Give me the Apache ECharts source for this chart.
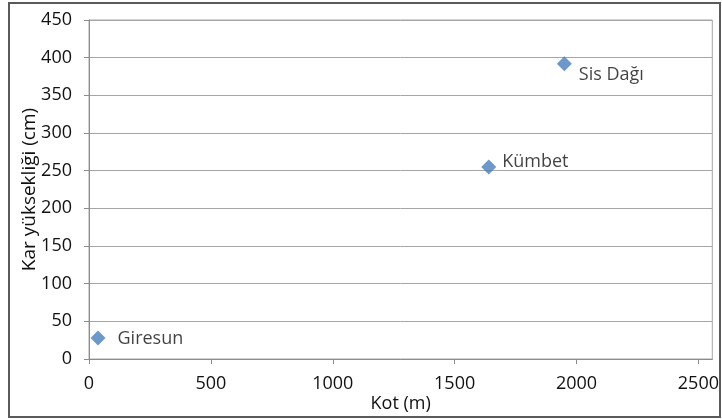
<!DOCTYPE html>
<html>
<head>
<meta charset="utf-8">
<script src="https://cdn.jsdelivr.net/npm/echarts@6/dist/echarts.min.js"></script>
<style>
  html, body { margin: 0; padding: 0; background: #fff; }
  #chart { width: 722px; height: 419px; }
</style>
</head>
<body>
<div id="chart"></div>
<script>
// istasyon verisi
var stations = ['Giresun', 'Kümbet', 'Sis Dağı'];
var kot = [37, 1640, 1950];        // m
var karYuk = [28, 255, 392];       // cm
var xTicks = [0, 500, 1000, 1500, 2000, 2500];

// etiket yerleşimi (veriden ayrı)
var labelPos = {
    'Giresun': { distance: 12, offset: [0, 1] },
    'Kümbet': { distance: 6, offset: [0, -5] },
    'Sis Dağı': { distance: 7, offset: [0, 11] }
};

var chart = echarts.init(document.getElementById('chart'));
var font = '"Open Sans", sans-serif';
var txt = '#111';

var option = {
    backgroundColor: '#fff',
    animation: false,
    graphic: [{
        type: 'rect',
        shape: { x: 9, y: 3, width: 711, height: 414 },
        style: { fill: 'none', stroke: '#5a5a5a', lineWidth: 2 },
        silent: true
    }],
    grid: {
        left: 89, top: 20, right: 9, bottom: 60,
        show: true,
        borderColor: '#a6a6a6',
        borderWidth: 1
    },
    xAxis: {
        type: 'value',
        min: 0, max: 2557, interval: 500,
        name: 'Kot (m)',
        nameLocation: 'middle',
        nameGap: 36,
        nameMoveOverlap: false,
        nameTextStyle: { fontFamily: font, fontSize: 18, color: txt },
        axisLine: { show: true, lineStyle: { color: '#8c8c8c' } },
        axisTick: { show: true, length: 5, lineStyle: { color: '#8c8c8c' }, customValues: xTicks },
        axisLabel: {
            fontFamily: font, fontSize: 18, color: txt, margin: 16, customValues: xTicks,
            formatter: function (v) { return String(v); }
        },
        splitLine: { show: false }
    },
    yAxis: {
        type: 'value',
        min: 0, max: 450, interval: 50,
        name: 'Kar yüksekliği (cm)',
        nameLocation: 'middle',
        nameGap: 50,
        nameRotate: 90,
        nameMoveOverlap: false,
        nameTextStyle: { fontFamily: font, fontSize: 19, color: txt },
        axisLine: { show: true, lineStyle: { color: '#8c8c8c' } },
        axisTick: { show: true, length: 5, lineStyle: { color: '#8c8c8c' } },
        axisLabel: {
            fontFamily: font, fontSize: 18, color: txt, margin: 17,
            formatter: function (v) { return String(v); }
        },
        splitLine: { show: true, lineStyle: { color: '#a6a6a6', width: 1 } }
    },
    series: [{
        type: 'scatter',
        symbol: 'diamond',
        symbolSize: [15, 15],
        itemStyle: { color: '#4a7ebb' },
        data: stations.map(function (name, i) {
            var lp = labelPos[name];
            return {
                name: name,
                value: [kot[i], karYuk[i]],
                label: {
                    show: true,
                    position: 'right',
                    distance: lp.distance,
                    offset: lp.offset,
                    formatter: '{b}',
                    fontFamily: font,
                    fontSize: 18,
                    color: txt
                }
            };
        })
    }]
};

chart.setOption(option);
</script>
</body>
</html>
